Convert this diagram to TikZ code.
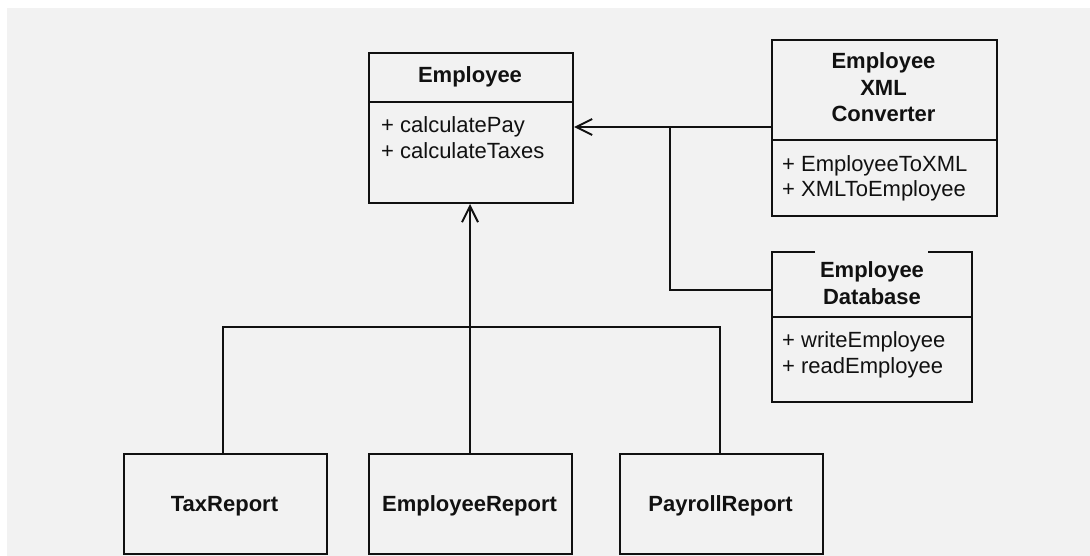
\documentclass[tikz,border=0pt]{standalone}
\usepackage{fontspec}
\setmainfont{Liberation Sans}
\usetikzlibrary{arrows.meta,calc}
\definecolor{paper}{HTML}{F2F2F2}
\definecolor{ink}{HTML}{111111}
\tikzset{
  x=1pt, y=-1pt,
  box/.style={draw=ink, line width=2pt, inner sep=0pt, anchor=north west},
  plainbox/.style={inner sep=0pt, anchor=north west},
  rule/.style={draw=ink, line width=2pt},
  link/.style={draw=ink, line width=2pt},
  dep/.style={link, -{Straight Barb[length=16pt,width=16pt,line width=2pt]}},
  title/.style={font=\fontsize{22}{26}\selectfont\bfseries, inner sep=0pt, anchor=base, text=ink},
  op/.style={font=\fontsize{22}{26}\selectfont, inner sep=0pt, anchor=base west, text=ink},
}
\begin{document}
\begin{tikzpicture}
% canvas
\fill[white] (0,0) rectangle (1090,556);
\fill[paper] (7,8) rectangle (1090,556);
\useasboundingbox (0,0) rectangle (1090,556);

% Employee class
\node[box, minimum width=204pt, minimum height=150pt] (emp) at (368,52) {};
\draw[rule] (368,102) -- (572,102);
\node[title] (empT) at (470,83) {Employee};
\node[op] (empO1) at (381,133) {+ calculatePay};
\node[op] (empO2) at (381,159) {+ calculateTaxes};

% Employee XML Converter class
\node[box, minimum width=225pt, minimum height=176pt] (xml) at (771,39) {};
\draw[rule] (771,140) -- (996,140);
\node[title] (xmlT1) at (883.5,69) {Employee};
\node[title] (xmlT2) at (883.5,96) {XML};
\node[title] (xmlT3) at (883.5,122) {Converter};
\node[op] (xmlO1) at (782,172) {+ EmployeeToXML};
\node[op] (xmlO2) at (782,197) {+ XMLToEmployee};

% Employee Database class (open top edge)
\node[plainbox, minimum width=200pt, minimum height=150pt] (db) at (772,252) {};
\draw[rule, line join=miter] ($(db.north west)+(43,0)$) -- (db.north west) -- (db.south west)
  -- (db.south east) -- (db.north east) -- ($(db.north east)+(-44,0)$);
\draw[rule] (772,317) -- (972,317);
\node[title] (dbT1) at (872,277) {Employee};
\node[title] (dbT2) at (872,304) {Database};
\node[op] (dbO1) at (782,347) {+ writeEmployee};
\node[op] (dbO2) at (782,373) {+ readEmployee};

% report classes
\node[box, minimum width=203pt, minimum height=100pt] (tax) at (123,453) {};
\node[title] (taxT) at (224.5,511) {TaxReport};
\node[box, minimum width=203pt, minimum height=100pt] (er) at (368,453) {};
\node[title] (erT) at (469.5,511) {EmployeeReport};
\node[box, minimum width=203pt, minimum height=100pt] (pr) at (619,453) {};
\node[title] (prT) at (720.5,511) {PayrollReport};

% dependencies on Employee
\coordinate (split) at (670,127);
\coordinate (bus) at (470,327);
\draw[dep] (xml.west |- split) -- (emp.east |- split);
\draw[link] (split) |- (db.west |- 0,290);
\draw[dep] (er.north -| bus) -- (emp.south -| bus);
\draw[link] (tax.north -| 223,0) |- (bus) -| (pr.north -| 720,0);
\end{tikzpicture}
\end{document}
